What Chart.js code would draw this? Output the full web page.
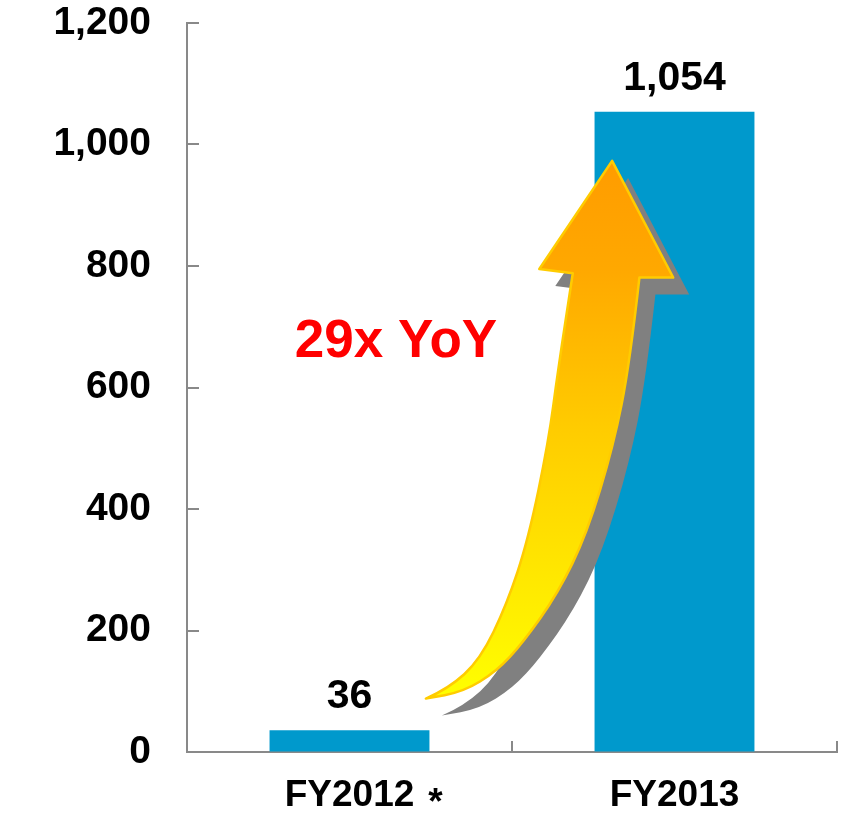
<!DOCTYPE html>
<html><head><meta charset="utf-8">
<script src="https://cdn.jsdelivr.net/npm/chart.js@4"></script>
<style>html,body{margin:0;padding:0;background:#fff}#wrap{width:847px;height:814px;position:relative}</style>
</head><body><div id="wrap"><canvas id="c"></canvas></div>
<script>
// ---- data ----
const categories = ['FY2012', 'FY2013'];
const values = [36, 1054];
const valueLabels = ['36', '1,054'];
const yTickValues = [0, 200, 400, 600, 800, 1000, 1200];
const footnoteMark = '*';
const annotationText = '29x YoY';

// ---- decoration (arrow outline in axis units: [category index, value]) ----
const arrowTail = [0.235, 88];
const arrowLeftEdge = [[0.304,104],[0.402,152],[0.484,243],[0.550,350],[0.612,510],[0.642,630],[0.687,788]];
const arrowRightEdge = [[0.350,99],[0.453,133],[0.535,181],[0.642,262],[0.730,359],[0.812,504],[0.863,642],[0.892,781]];
const arrowHeadPts = [[0.584,795],[0.808,973],[0.996,781]];
const annotationPos = [0.143, 650];

const FONT = "'Liberation Sans', Arial, sans-serif";
const AXIS_COLOR = '#898989';
const BAR_COLOR = '#0099CC';

function smoothPath(ctx, pts) {
  for (let i = 1; i < pts.length - 1; i++) {
    const mx = (pts[i][0] + pts[i+1][0]) / 2, my = (pts[i][1] + pts[i+1][1]) / 2;
    ctx.quadraticCurveTo(pts[i][0], pts[i][1], mx, my);
  }
  const l = pts[pts.length - 1];
  ctx.lineTo(l[0], l[1]);
}

const decorPlugin = {
  id: 'decor',
  afterDatasetsDraw(chart) {
    const ctx = chart.ctx, xs = chart.scales.x, ys = chart.scales.y;
    const P = p => [xs.getPixelForValue(p[0]), ys.getPixelForValue(p[1])];
    const tail = P(arrowTail);
    const left = [tail].concat(arrowLeftEdge.map(P));
    const rightRev = arrowRightEdge.map(P).reverse().concat([tail]);
    const head = arrowHeadPts.map(P);
    function buildPath(dx, dy) {
      const sh = p => [p[0] + dx, p[1] + dy];
      const L = left.map(sh), R = rightRev.map(sh), H = head.map(sh);
      ctx.beginPath();
      ctx.moveTo(L[0][0], L[0][1]);
      smoothPath(ctx, L);
      H.forEach(p => ctx.lineTo(p[0], p[1]));
      ctx.lineTo(R[0][0], R[0][1]);
      smoothPath(ctx, R);
      ctx.closePath();
    }
    ctx.save();
    buildPath(16, 17);
    ctx.fillStyle = '#808080';
    ctx.fill();
    buildPath(0, 0);
    const g = ctx.createLinearGradient(0, head[1][1], 0, tail[1]);
    g.addColorStop(0, '#FF9C00');
    g.addColorStop(0.2, '#FFA800');
    g.addColorStop(0.5, '#FFCC00');
    g.addColorStop(1, '#FFFF00');
    ctx.fillStyle = g;
    ctx.fill();
    ctx.strokeStyle = '#FFCC00';
    ctx.lineWidth = 2.5;
    ctx.lineJoin = 'round';
    ctx.stroke();

    ctx.fillStyle = '#000';
    ctx.font = 'bold 41px ' + FONT;
    ctx.textAlign = 'center';
    ctx.textBaseline = 'alphabetic';
    chart.getDatasetMeta(0).data.forEach((bar, i) => {
      ctx.fillText(valueLabels[i], bar.x, bar.y - 22);
    });

    ctx.fillStyle = '#FF0000';
    ctx.font = 'bold 53px ' + FONT;
    const ap = P(annotationPos);
    ctx.fillText(annotationText, ap[0], ap[1]);

    ctx.fillStyle = '#000';
    ctx.font = 'bold 37px ' + FONT;
    const w = ctx.measureText(categories[0]).width;
    ctx.textAlign = 'left';
    ctx.fillText(footnoteMark, xs.getPixelForValue(0) + w / 2 + 14, xs.top + 62);
    ctx.restore();
  },
  afterDraw(chart) {
    const ctx = chart.ctx, xs = chart.scales.x, ys = chart.scales.y;
    ctx.save();
    ctx.strokeStyle = AXIS_COLOR;
    ctx.lineWidth = 2;
    ctx.beginPath();
    yTickValues.forEach(v => {
      const y = Math.round(ys.getPixelForValue(v));
      ctx.moveTo(ys.right, y); ctx.lineTo(ys.right + 12, y);
    });
    for (let i = 0; i <= categories.length; i++) {
      const x = Math.round(xs.getPixelForValue(i - 0.5));
      ctx.moveTo(x, xs.top); ctx.lineTo(x, xs.top - 11);
    }
    ctx.stroke();
    ctx.restore();
  }
};

new Chart(document.getElementById('c'), {
  type: 'bar',
  data: {
    labels: categories,
    datasets: [{
      data: values,
      backgroundColor: BAR_COLOR,
      borderWidth: 0,
      categoryPercentage: 1,
      barPercentage: 0.492
    }]
  },
  options: {
    responsive: true,
    maintainAspectRatio: false,
    animation: false,
    layout: { padding: { top: 23, right: 10, left: 0, bottom: 0 } },
    plugins: { legend: { display: false }, tooltip: { enabled: false } },
    scales: {
      x: {
        grid: { display: true, drawOnChartArea: false, drawTicks: false },
        border: { display: true, color: AXIS_COLOR, width: 2 },
        ticks: { color: '#000', font: { family: FONT, size: 37, weight: 'bold' }, padding: 22 },
        afterFit(s) { s.height = 62; }
      },
      y: {
        min: 0, max: 1200,
        afterBuildTicks(s) { s.ticks = yTickValues.map(v => ({ value: v })); },
        grid: { display: true, drawOnChartArea: false, drawTicks: false },
        border: { display: true, color: AXIS_COLOR, width: 2 },
        ticks: {
          color: '#000', font: { family: FONT, size: 39, weight: 'bold' }, padding: 36,
          callback: v => v.toLocaleString('en-US')
        },
        afterFit(s) { s.width = 187; s.paddingTop = 0; s.paddingBottom = 0; }
      }
    }
  },
  plugins: [decorPlugin]
});
</script></body></html>
